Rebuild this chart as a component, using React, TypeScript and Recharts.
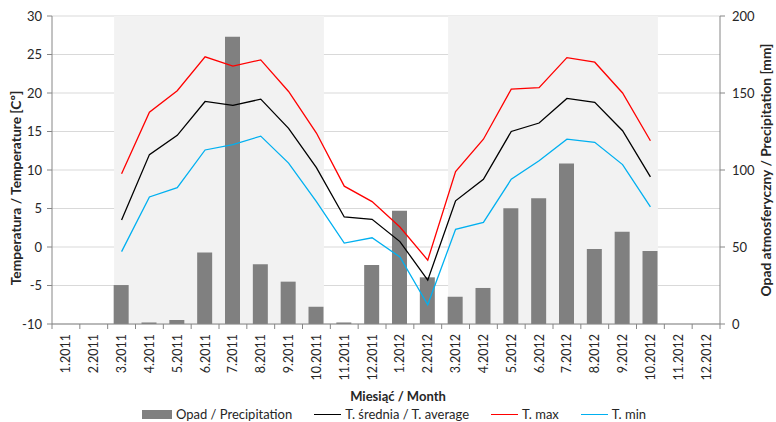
import React from 'react'
import {
  ComposedChart,
  Bar,
  Line,
  XAxis,
  YAxis,
  CartesianGrid,
  ReferenceArea,
  Legend,
} from 'recharts'

// Temperatura i opad, 2011-2012

const MONTHS = [
  '1.2011', '2.2011', '3.2011', '4.2011', '5.2011', '6.2011',
  '7.2011', '8.2011', '9.2011', '10.2011', '11.2011', '12.2011',
  '1.2012', '2.2012', '3.2012', '4.2012', '5.2012', '6.2012',
  '7.2012', '8.2012', '9.2012', '10.2012', '11.2012', '12.2012',
]

const PRECIP = [
  null, null, 25.3, 1, 2.6, 46.5, 186.6, 38.8, 27.5, 11.2, 1, 38.3,
  73.6, 30.3, 17.7, 23.4, 75.1, 81.6, 104.3, 48.7, 59.9, 47.4, null, null,
]
const T_AVG = [
  null, null, 3.5, 12.0, 14.5, 18.9, 18.4, 19.2, 15.4, 10.3, 3.9, 3.6,
  0.7, -4.3, 6.0, 8.8, 15.0, 16.1, 19.3, 18.8, 15.1, 9.1, null, null,
]
const T_MAX = [
  null, null, 9.5, 17.5, 20.3, 24.7, 23.5, 24.3, 20.2, 14.8, 7.9, 5.9,
  2.6, -1.7, 9.8, 14.0, 20.5, 20.7, 24.6, 24.0, 20.0, 13.8, null, null,
]
const T_MIN = [
  null, null, -0.6, 6.5, 7.7, 12.6, 13.3, 14.4, 10.9, 5.9, 0.5, 1.2,
  -1.3, -7.5, 2.3, 3.2, 8.8, 11.2, 14.0, 13.6, 10.7, 5.2, null, null,
]

const TEMP_TICKS = [-10, -5, 0, 5, 10, 15, 20, 25, 30]
const PRECIP_TICKS = [0, 50, 100, 150, 200]
const SEASONS = [
  ['3.2011', '10.2011'],
  ['3.2012', '10.2012'],
]

const data = MONTHS.map((m, i) => ({
  month: m,
  precip: PRECIP[i],
  tAvg: T_AVG[i],
  tMax: T_MAX[i],
  tMin: T_MIN[i],
}))

const W = 776
const H = 422
const LEFT_W = 52
const RIGHT_W = 56
const BAND = (W - LEFT_W - RIGHT_W) / MONTHS.length
const BAR_SIZE = 15

const AXIS = '#868686'
const GRID = '#d9d9d9'
const TEXT = '#262626'
const FONT = 'Lato, "Open Sans", sans-serif'

function MonthTick(props: any) {
  const { x, y, payload, index } = props
  const half = BAND / 2
  const ty = y + 10
  return (
    <g>
      <line x1={x - half} y1={y} x2={x - half} y2={y + 5} stroke={AXIS} />
      {index === MONTHS.length - 1 && (
        <line x1={x + half} y1={y} x2={x + half} y2={y + 5} stroke={AXIS} />
      )}
      <text
        x={x}
        y={ty}
        transform={`rotate(-90, ${x}, ${ty})`}
        textAnchor="end"
        dominantBaseline="central"
        fontSize={12.5}
        fontFamily={FONT}
        fill={TEXT}
      >
        {payload.value}
      </text>
    </g>
  )
}

// shading stops at the outer bar edges, not the category edges
function SeasonShape(props: any) {
  const { x, y, width, height } = props
  const inset = (BAND - BAR_SIZE) / 2
  return <rect x={x + inset} y={y} width={width - 2 * inset} height={height} fill="#f2f2f2" />
}

function BottomLegend() {
  const item = { display: 'flex', alignItems: 'center', gap: 4 } as const
  const line = (c: string) => <span style={{ display: 'inline-block', width: 27, height: 0, borderTop: `1.5px solid ${c}` }} />
  return (
    <div style={{ height: 34, fontFamily: FONT, color: TEXT, position: 'relative' }}>
      <div style={{ position: 'absolute', top: 0, left: 0, width: W, textAlign: 'center', paddingLeft: 20, boxSizing: 'border-box', fontWeight: 700, fontSize: 13, lineHeight: '16px' }}>
        Miesiąć / Month
      </div>
      <div style={{ position: 'absolute', top: 19, left: 0, width: W, display: 'flex', justifyContent: 'center', paddingLeft: 12, boxSizing: 'border-box', gap: 22, fontSize: 13, lineHeight: '15px' }}>
        <span style={item}>
          <span style={{ display: 'inline-block', width: 30, height: 9, background: '#808080' }} />
          Opad / Precipitation
        </span>
        <span style={item}>{line('#000000')}T. średnia / T. average</span>
        <span style={item}>{line('#ff0000')}T. max</span>
        <span style={item}>{line('#00b0f0')}T. min</span>
      </div>
    </div>
  )
}

export default function App() {
  return (
    <div style={{ width: W, height: H }}>
      <style>{'body{margin:0}'}</style>
      <ComposedChart
        width={W}
        height={H}
        data={data}
        margin={{ top: 16, right: 0, bottom: 0, left: 0 }}
      >
        <CartesianGrid yAxisId="left" vertical={false} stroke={GRID} strokeWidth={1} />
        {SEASONS.map(([a, b]) => (
          <ReferenceArea key={a} yAxisId="left" x1={a} x2={b} shape={SeasonShape} ifOverflow="visible" />
        ))}
        <XAxis
          dataKey="month"
          interval={0}
          height={64}
          tickLine={false}
          tickSize={0}
          tickMargin={0}
          tick={<MonthTick />}
          axisLine={{ stroke: AXIS }}
        />
        <YAxis
          yAxisId="left"
          width={LEFT_W}
          domain={[-10, 30]}
          ticks={TEMP_TICKS}
          interval={0}
          tickSize={5}
          tickMargin={5}
          axisLine={{ stroke: AXIS }}
          tickLine={{ stroke: AXIS }}
          tick={{ fontSize: 13, fill: TEXT, fontFamily: FONT }}
          label={{
            content: () => (
              <text x={15} y={188} transform="rotate(-90, 15, 188)" textAnchor="middle" dominantBaseline="central" fontSize={13.8} fontWeight={700} fontFamily={FONT} fill={TEXT}>
                Temperatura / Temperature [Cº]
              </text>
            ),
          }}
        />
        <YAxis
          yAxisId="right"
          orientation="right"
          width={RIGHT_W}
          domain={[0, 200]}
          ticks={PRECIP_TICKS}
          interval={0}
          tickSize={5}
          tickMargin={7}
          axisLine={{ stroke: AXIS }}
          tickLine={{ stroke: AXIS }}
          tick={{ fontSize: 13, fill: TEXT, fontFamily: FONT }}
          label={{
            content: () => (
              <text x={765} y={170} transform="rotate(-90, 765, 170)" textAnchor="middle" dominantBaseline="central" fontSize={13.8} fontWeight={700} fontFamily={FONT} fill={TEXT}>
                Opad atmosferyczny / Precipitation [mm]
              </text>
            ),
          }}
        />
        <Bar yAxisId="right" dataKey="precip" fill="#808080" barSize={BAR_SIZE} isAnimationActive={false} />
        <Line yAxisId="left" dataKey="tAvg" stroke="#000000" strokeWidth={1.3} dot={false} type="linear" isAnimationActive={false} />
        <Line yAxisId="left" dataKey="tMax" stroke="#ff0000" strokeWidth={1.3} dot={false} type="linear" isAnimationActive={false} />
        <Line yAxisId="left" dataKey="tMin" stroke="#00b0f0" strokeWidth={1.3} dot={false} type="linear" isAnimationActive={false} />
        <Legend verticalAlign="bottom" content={() => <BottomLegend />} />
      </ComposedChart>
    </div>
  )
}
